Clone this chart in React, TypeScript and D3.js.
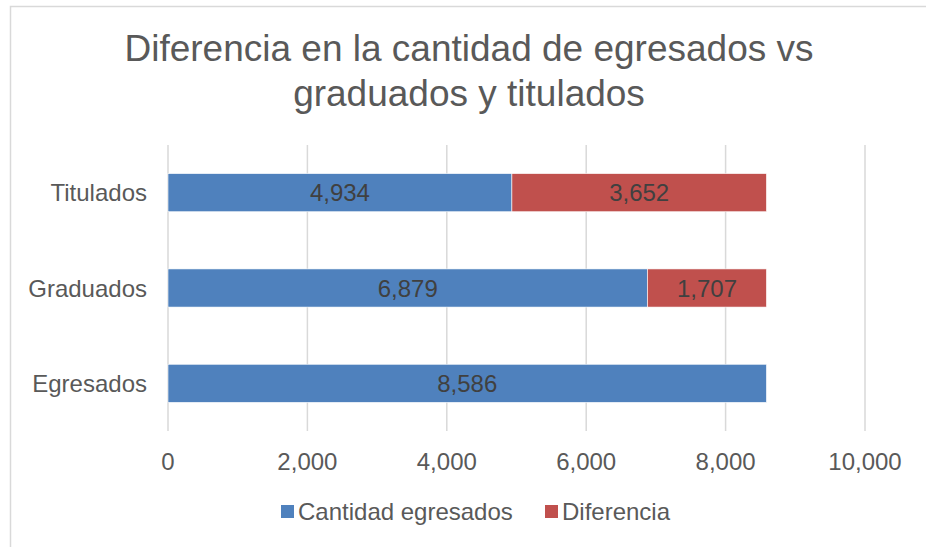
import React from 'react';
import * as d3 from 'd3';

const categories = ['Titulados', 'Graduados', 'Egresados'];
const cantidadEgresados = [4934, 6879, 8586];
const diferencia = [3652, 1707, 0];
const xTicks = [0, 2000, 4000, 6000, 8000, 10000];
const seriesNames = ['Cantidad egresados', 'Diferencia'];
const seriesColors = ['#4F81BD', '#C0504D'];

const W = 926;
const H = 547;
const margin = { top: 145, right: 61, bottom: 116, left: 168 };
const font = '"Liberation Sans", Arial, sans-serif';

export default function App() {
  const width = W - margin.left - margin.right;
  const height = H - margin.top - margin.bottom;

  const x = d3.scaleLinear().domain([0, 10000]).range([0, width]);
  const y = d3.scaleBand().domain(categories).range([0, height]).paddingInner(0.6).paddingOuter(0.3);
  const fmt = d3.format(',');

  const stacked = categories.map((c, i) => {
    const parts = [cantidadEgresados[i], diferencia[i]];
    let acc = 0;
    return parts.map((v, s) => {
      const seg = { cat: c, s, x0: acc, x1: acc + v, v };
      acc += v;
      return seg;
    });
  });

  return (
    <svg width={W} height={H} style={{ position: 'absolute', left: 0, top: 0, fontFamily: font }}>
      <rect x={0} y={0} width={W} height={H} fill="#fff" />
      <rect x={10.5} y={6.5} width={W + 10} height={H + 10} fill="#fff" stroke="#d9d9d9" strokeWidth={1.5} />
      <text x={469} y={61} textAnchor="middle" fontSize={37} fill="#595959">
        Diferencia en la cantidad de egresados vs
      </text>
      <text x={469} y={106} textAnchor="middle" fontSize={37} fill="#595959">
        graduados y titulados
      </text>
      <g transform={`translate(${margin.left},${margin.top})`}>
        {xTicks.map((t) => (
          <line key={t} x1={x(t)} x2={x(t)} y1={0} y2={height} stroke="#d9d9d9" strokeWidth={1.5} />
        ))}
        {stacked.flat().filter((d) => d.v > 0).map((d) => (
          <g key={d.cat + d.s}>
            <rect
              x={x(d.x0)}
              y={y(d.cat)}
              width={x(d.x1) - x(d.x0)}
              height={y.bandwidth()}
              fill={seriesColors[d.s]}
              stroke="#fff"
              strokeWidth={0.6}
            />
            <text
              x={(x(d.x0) + x(d.x1)) / 2}
              y={(y(d.cat) ?? 0) + y.bandwidth() / 2}
              dy="0.36em"
              textAnchor="middle"
              fontSize={24}
              fill="#404040"
            >
              {fmt(d.v)}
            </text>
          </g>
        ))}
        {categories.map((c) => (
          <text key={c} x={-21} y={(y(c) ?? 0) + y.bandwidth() / 2} dy="0.36em" textAnchor="end" fontSize={24} fill="#595959">
            {c}
          </text>
        ))}
        {xTicks.map((t) => (
          <text key={t} x={x(t)} y={height + 39} textAnchor="middle" fontSize={24} fill="#595959">
            {fmt(t)}
          </text>
        ))}
      </g>
      <g transform="translate(281,511)">
        <rect x={0} y={-6} width={13} height={13} fill={seriesColors[0]} />
        <text x={17} y={0} dy="0.36em" fontSize={24} fill="#595959">{seriesNames[0]}</text>
        <rect x={264} y={-6} width={13} height={13} fill={seriesColors[1]} />
        <text x={281} y={0} dy="0.36em" fontSize={24} fill="#595959">{seriesNames[1]}</text>
      </g>
    </svg>
  );
}
